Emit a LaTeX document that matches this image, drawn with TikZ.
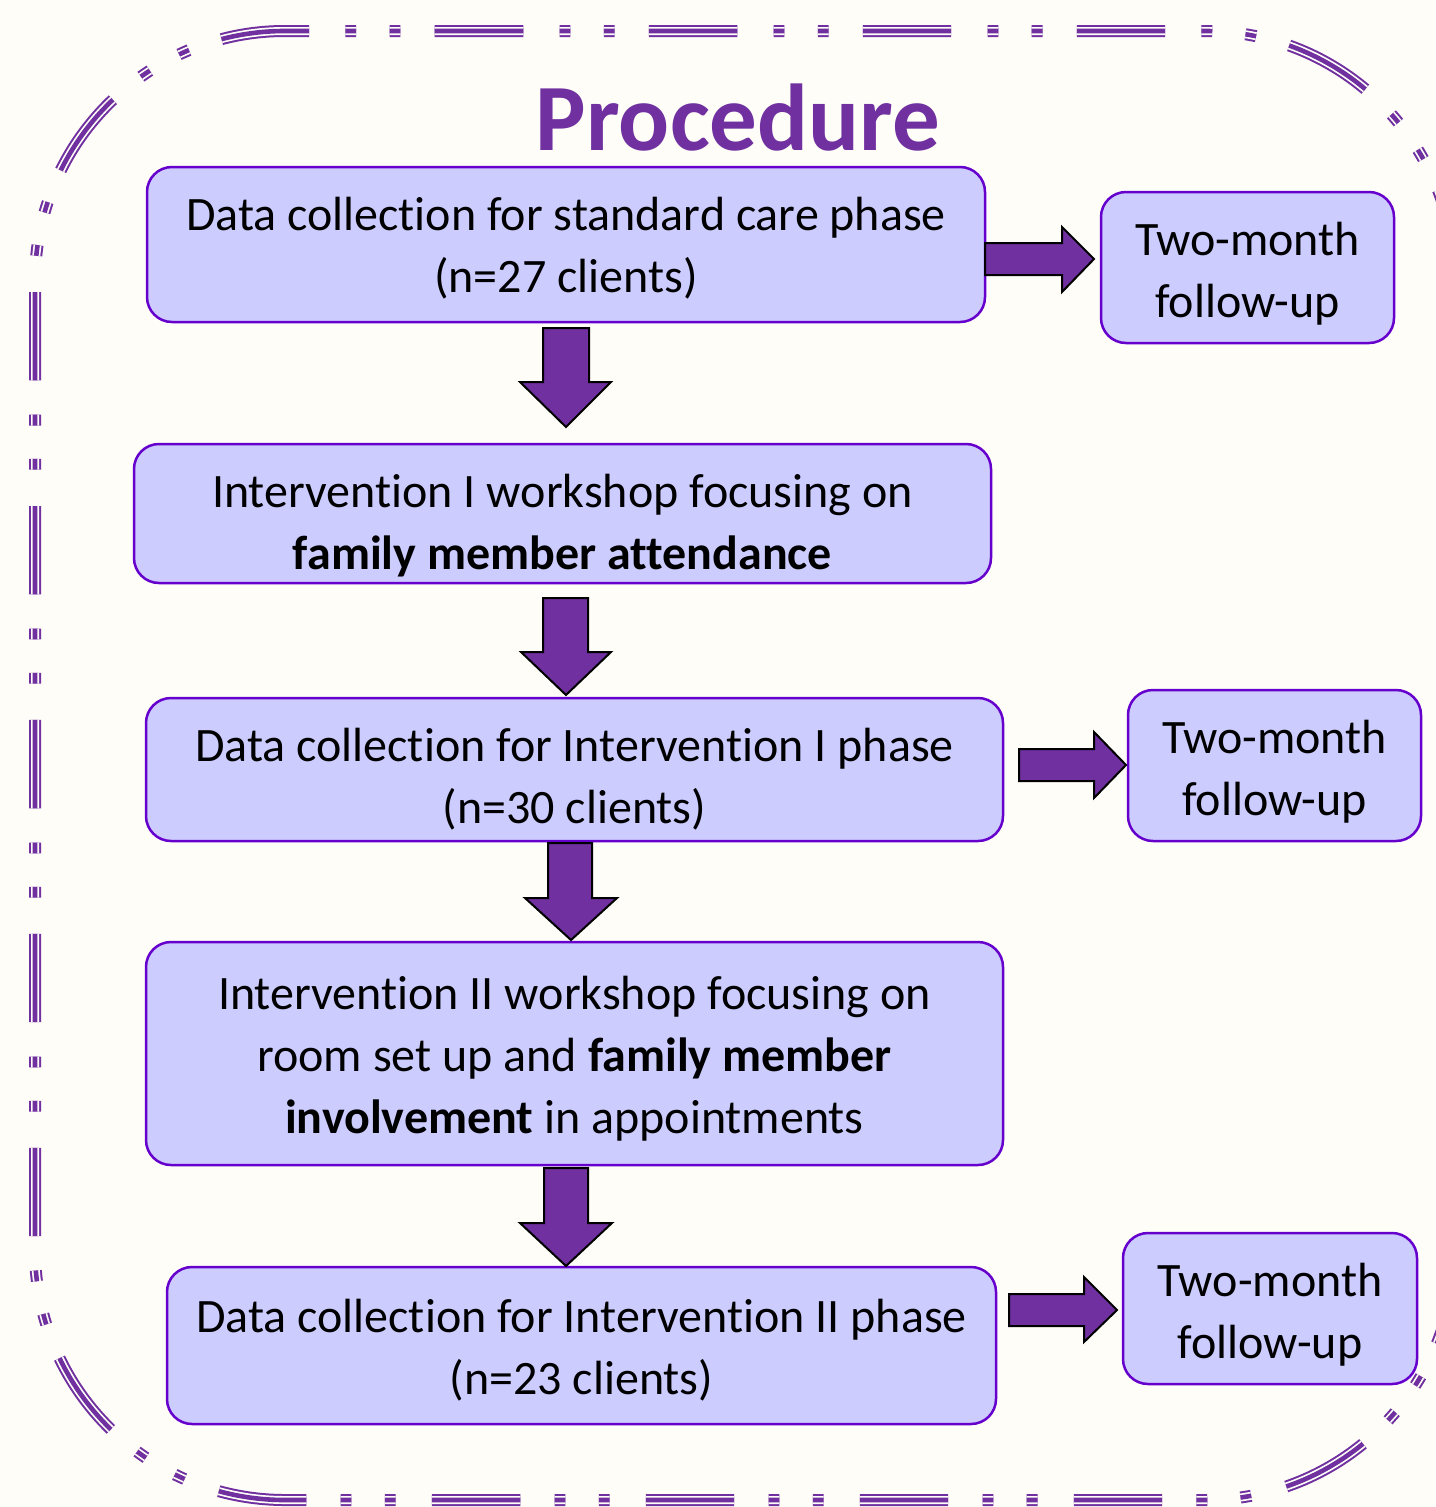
\documentclass[tikz,border=0pt]{standalone}
\usepackage{fontspec}
\setmainfont{Carlito}[Ligatures=NoCommon]
\definecolor{bgc}{RGB}{254,253,248}
\definecolor{pur}{RGB}{112,48,160}
\definecolor{boxline}{RGB}{102,0,204}
\definecolor{boxfill}{RGB}{204,204,255}
\tikzset{
  stepbox/.style={draw=boxline, line width=2.5pt, fill=boxfill, rounded corners=25pt, inner sep=0pt},
  boxtext/.style={align=center, inner sep=0pt, font=\fontsize{48}{62}\selectfont, text=black},
  blockarrow/.style={draw=black, line width=2pt, fill=pur, line join=miter},
  borderdash/.style={dash pattern=on 88.3pt off 36.3pt on 10.8pt off 33.4pt on 10.8pt off 34.35pt},
}
\begin{document}
\begin{tikzpicture}[x=1pt,y=-1pt]
\useasboundingbox (0,0) rectangle (1435,1507);
\fill[bgc] (0,0) rectangle (1435,1507);
% border: triple dashed line
\foreach \w/\c in {12/pur,8/bgc,4.6/pur}{
  \draw[borderdash, line width=\w pt, draw=\c]
    (435,31) -- (1205,31) arc[start angle=-90, end angle=0, radius=250]
    -- (1455,1250) arc[start angle=0, end angle=90, radius=250]
    -- (285,1500) arc[start angle=90, end angle=180, radius=250]
    -- (35,281) arc[start angle=180, end angle=270, radius=250]
    -- (435,31);
}
% title
\node[font=\fontsize{95}{105}\selectfont\bfseries, text=pur, anchor=base] (title) at (738,150) {Procedure};
% boxes
\node[stepbox, minimum width=838pt, minimum height=155pt] (b1) at (566,244.5) {};
\node[boxtext] (b1t) at ([yshift=-4pt]b1.center) {Data collection for standard care phase\\(n=27 clients)};
\node[stepbox, minimum width=293pt, minimum height=151pt] (f1) at (1247.5,267.5) {};
\node[boxtext] (f1t) at ([yshift=-6pt]f1.center) {Two-month\\follow-up};
\node[stepbox, minimum width=857pt, minimum height=139pt] (b2) at (562.5,513.5) {};
\node[boxtext] (b2t) at ([yshift=-12pt]b2.center) {Intervention I workshop focusing on\\\textbf{family member attendance}};
\node[stepbox, minimum width=857pt, minimum height=143pt] (b3) at (574.5,769.5) {};
\node[boxtext] (b3t) at ([yshift=-10pt]b3.center) {Data collection for Intervention I phase\\(n=30 clients)};
\node[stepbox, minimum width=293pt, minimum height=151pt] (f2) at (1274.5,765.5) {};
\node[boxtext] (f2t) at ([yshift=-6pt]f2.center) {Two-month\\follow-up};
\node[stepbox, minimum width=857pt, minimum height=223pt] (b4) at (574.5,1053.5) {};
\node[boxtext] (b4t) at ([yshift=-5pt]b4.center) {Intervention II workshop focusing on\\room set up and \textbf{family member}\\\textbf{involvement} in appointments};
\node[stepbox, minimum width=829pt, minimum height=157pt] (b5) at (581.5,1345.5) {};
\node[boxtext] (b5t) at ([yshift=-5pt]b5.center) {Data collection for Intervention II phase\\(n=23 clients)};
\node[stepbox, minimum width=294pt, minimum height=151pt] (f3) at (1270,1308.5) {};
\node[boxtext] (f3t) at ([yshift=-6pt]f3.center) {Two-month\\follow-up};
% down block arrows
\draw[blockarrow] (543,328) -- (589,328) -- (589,382) -- (611,382) -- (566,427) -- (520,382) -- (543,382) -- cycle;
\draw[blockarrow] (543,598) -- (588,598) -- (588,652) -- (611,652) -- (566,695) -- (521,652) -- (543,652) -- cycle;
\draw[blockarrow] (548,843) -- (592,843) -- (592,898) -- (617,898) -- (571,940) -- (525,898) -- (548,898) -- cycle;
\draw[blockarrow] (544,1168) -- (588,1168) -- (588,1223) -- (612,1223) -- (566,1266) -- (520,1223) -- (544,1223) -- cycle;
% right block arrows
\draw[blockarrow] (985,243) -- (1062,243) -- (1062,227) -- (1094,259) -- (1062,292) -- (1062,275) -- (985,275) -- cycle;
\draw[blockarrow] (1019,749) -- (1094,749) -- (1094,732) -- (1126,765) -- (1094,798) -- (1094,781) -- (1019,781) -- cycle;
\draw[blockarrow] (1009,1294) -- (1084,1294) -- (1084,1277) -- (1117,1310) -- (1084,1342) -- (1084,1326) -- (1009,1326) -- cycle;
\end{tikzpicture}
\end{document}
